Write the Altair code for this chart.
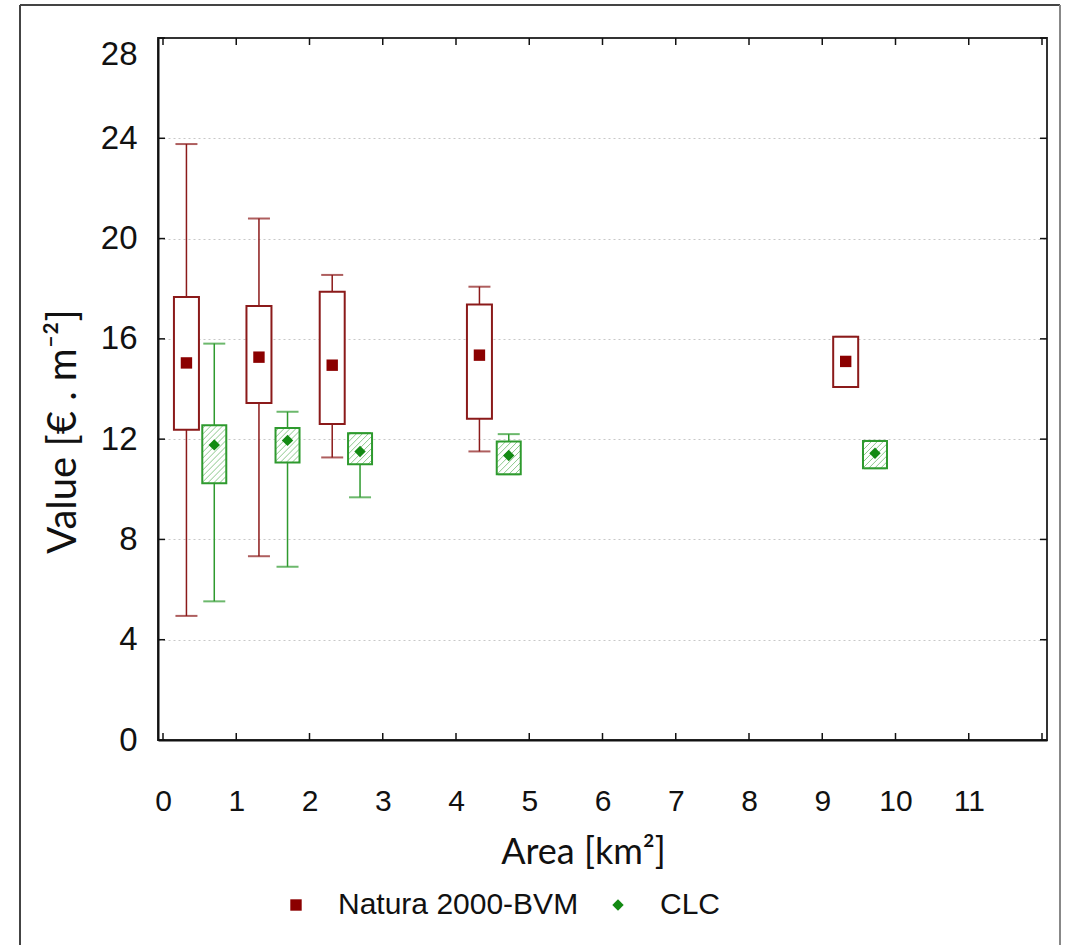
import altair as alt
import pandas as pd
import numpy as np

# ---------------- data ----------------
natura_x = [0.32, 1.31, 2.31, 4.32, 9.32]
natura_wlo = [4.95, 7.33, 11.27, 11.51, 14.08]
natura_q1 = [12.37, 13.44, 12.60, 12.81, 14.08]
natura_mean = [15.04, 15.27, 14.95, 15.35, 15.10]
natura_q3 = [17.67, 17.31, 17.88, 17.37, 16.08]
natura_whi = [23.77, 20.80, 18.55, 18.08, 16.08]

clc_x = [0.70, 1.70, 2.69, 4.72, 9.72]
clc_wlo = [5.53, 6.91, 9.68, 10.60, 10.84]
clc_q1 = [10.24, 11.07, 11.00, 10.60, 10.84]
clc_mean = [11.77, 11.95, 11.51, 11.35, 11.44]
clc_q3 = [12.55, 12.44, 12.24, 11.91, 11.93]
clc_whi = [15.81, 13.09, 12.24, 12.20, 11.93]

series_names = ["Natura 2000-BVM", "CLC"]
x_tick_values = list(range(0, 12))
x_minor_ticks = list(range(0, 13))
y_tick_values = [0, 4, 8, 12, 16, 20, 24, 28]

# ---------------- styling / layout ----------------
W, H = 889, 702
XMAX, YMAX = 12, 28
PX_X, PX_Y = W / XMAX, H / YMAX
RED = "#8b1a1a"
RED_MARK = "#8b0000"
GREEN = "#2e9a2e"
GREEN_MARK = "#138a13"
HATCH = "#8cc98c"
NUM_FONT = "Liberation Sans Narrow, Arial Narrow, Liberation Sans, sans-serif"
TITLE_FONT = "Lato, Open Sans, sans-serif"
BOX_W = 24

nat = pd.DataFrame(dict(x=natura_x, lo=natura_wlo, q1=natura_q1, m=natura_mean,
                        q3=natura_q3, hi=natura_whi, s=series_names[0]))
clc = pd.DataFrame(dict(x=clc_x, lo=clc_wlo, q1=clc_q1, m=clc_mean,
                        q3=clc_q3, hi=clc_whi, s=series_names[1]))
means = pd.concat([nat, clc], ignore_index=True)

# hatch segments inside CLC boxes (45 degrees in screen space)
rows = []
SP = 6.0
for xc, lo, hi in zip(clc_x, clc_q1, clc_q3):
    w = BOX_W
    h = (hi - lo) * PX_Y
    x0 = xc - (w / 2) / PX_X
    c = -h + SP / 2
    while c < w:
        u1, v1 = max(0.0, c), max(0.0, -c)
        u2, v2 = min(w, h + c), min(h, w - c)
        rows.append(dict(x=x0 + u1 / PX_X, y=lo + v1 / PX_Y,
                         x2=x0 + u2 / PX_X, y2=lo + v2 / PX_Y))
        c += SP
hatch = pd.DataFrame(rows)

xs = alt.Scale(domain=[0, XMAX], nice=False, zero=False)
ys = alt.Scale(domain=[0, YMAX], nice=False, zero=False)

x_axis = alt.Axis(values=x_tick_values, ticks=False, grid=False,
                  labelFont=NUM_FONT, labelFontSize=30, labelColor="#111",
                  labelPadding=46, labelFlush=False,
                  domainColor="#111", domainWidth=2,
                  title="Area [km²]", titleFont=TITLE_FONT, titleFontSize=36,
                  titleFontWeight="normal", titleColor="#111",
                  titleX=425, titleY=123, titleBaseline="alphabetic")
y_axis = alt.Axis(values=y_tick_values, ticks=False, grid=True,
                  gridColor={"condition": {"test": "datum.value >= 28", "value": "transparent"},
                             "value": "#c8c8c8"},
                  gridDash=[2, 3], gridWidth=1,
                  labelFont=NUM_FONT, labelFontSize=33, labelColor="#111",
                  labelPadding=21, labelFlush=False,
                  labelBaseline={"condition": {"test": "datum.value >= 28", "value": "top"},
                                 "value": "middle"},
                  domainColor="#111", domainWidth=2,
                  title="Value [€ . m⁻²]", titleFont=TITLE_FONT, titleFontSize=40,
                  titleFontWeight="normal", titleColor="#111",
                  titleX=-95, titleY=393, titleBaseline="middle", titleAngle=-90)

X = lambda f: alt.X(f, type="quantitative", scale=xs, axis=x_axis)
Y = lambda f: alt.Y(f, type="quantitative", scale=ys, axis=y_axis)

# whiskers
nat_wh = alt.Chart(nat).mark_rule(color=RED, strokeWidth=1.5).encode(
    x=X("x"), y=Y("lo"), y2="hi")
clc_wh = alt.Chart(clc).mark_rule(color=GREEN, strokeWidth=1.5).encode(
    x=X("x"), y=Y("lo"), y2="hi")
nat_cap_hi = alt.Chart(nat).mark_tick(color=RED, orient="horizontal", size=22, thickness=2).encode(
    x=X("x"), y=Y("hi"))
nat_cap_lo = alt.Chart(nat).mark_tick(color=RED, orient="horizontal", size=22, thickness=2).encode(
    x=X("x"), y=Y("lo"))
clc_cap_hi = alt.Chart(clc).mark_tick(color=GREEN, orient="horizontal", size=22, thickness=2).encode(
    x=X("x"), y=Y("hi"))
clc_cap_lo = alt.Chart(clc).mark_tick(color=GREEN, orient="horizontal", size=22, thickness=2).encode(
    x=X("x"), y=Y("lo"))

# boxes
nat_box = alt.Chart(nat).mark_bar(size=25, fill="white", stroke=RED, strokeWidth=2).encode(
    x=X("x"), y=Y("q1"), y2="q3")
clc_box_bg = alt.Chart(clc).mark_bar(size=BOX_W, fill="white", strokeWidth=0).encode(
    x=X("x"), y=Y("q1"), y2="q3")
clc_hatch = alt.Chart(hatch).mark_rule(color=HATCH, strokeWidth=1).encode(
    x=X("x"), y=Y("y"), x2="x2", y2="y2")
clc_box = alt.Chart(clc).mark_bar(size=BOX_W, fillOpacity=0, stroke=GREEN, strokeWidth=2).encode(
    x=X("x"), y=Y("q1"), y2="q3")

# mean markers + legend
mean_pts = alt.Chart(means).mark_point(filled=True, opacity=1, size=130).encode(
    x=X("x"), y=Y("m"),
    color=alt.Color("s:N", scale=alt.Scale(domain=series_names, range=[RED_MARK, GREEN_MARK]),
                    legend=alt.Legend(title=None, orient="none", legendX=123, legendY=852,
                                      direction="horizontal", labelFont=NUM_FONT,
                                      labelFontSize=30, labelColor="#111", labelOffset=27,
                                      labelLimit=0, columnPadding=24, symbolSize=130,
                                      symbolStrokeWidth=0)),
    shape=alt.Shape("s:N", scale=alt.Scale(domain=series_names, range=["square", "diamond"]),
                    legend=None),
)

# inward ticks on all four sides
ytk = pd.DataFrame(dict(v=y_tick_values))
xtk = pd.DataFrame(dict(v=x_minor_ticks))
tick_style = dict(color="#111", strokeWidth=1.5)
t_left = alt.Chart(ytk).mark_rule(**tick_style).encode(y=Y("v"), x=alt.value(0), x2=alt.value(7))
t_right = alt.Chart(ytk).mark_rule(**tick_style).encode(y=Y("v"), x=alt.value(W), x2=alt.value(W - 7))
t_bot = alt.Chart(xtk).mark_rule(**tick_style).encode(x=X("v"), y=alt.value(H), y2=alt.value(H - 7))
t_top = alt.Chart(xtk).mark_rule(**tick_style).encode(x=X("v"), y=alt.value(0), y2=alt.value(7))

# outer frame (left, top, right)
frame_style = dict(color="#444", strokeWidth=2)
f_left = alt.Chart(ytk).mark_rule(**frame_style).encode(
    x=alt.value(-138), y=alt.value(-33), y2=alt.value(960))
f_top = alt.Chart(ytk).mark_rule(**frame_style).encode(
    x=alt.value(-138), x2=alt.value(902), y=alt.value(-33))
f_right = alt.Chart(ytk).mark_rule(color="#888", strokeWidth=2).encode(
    x=alt.value(902), y=alt.value(-33), y2=alt.value(960))

chart = alt.layer(
    nat_wh, clc_wh, nat_cap_hi, nat_cap_lo, clc_cap_hi, clc_cap_lo,
    nat_box, clc_box_bg, clc_hatch, clc_box, mean_pts,
    t_left, t_right, t_bot, t_top, f_left, f_top, f_right,
).properties(
    width=W, height=H,
    autosize=alt.AutoSizeParams(type="none"),
    padding={"left": 158, "top": 38, "right": 27, "bottom": 205},
    background="white",
).configure_view(stroke="#333", strokeWidth=2)

chart.save("out.html", embed_options={"renderer": "svg", "actions": False})
